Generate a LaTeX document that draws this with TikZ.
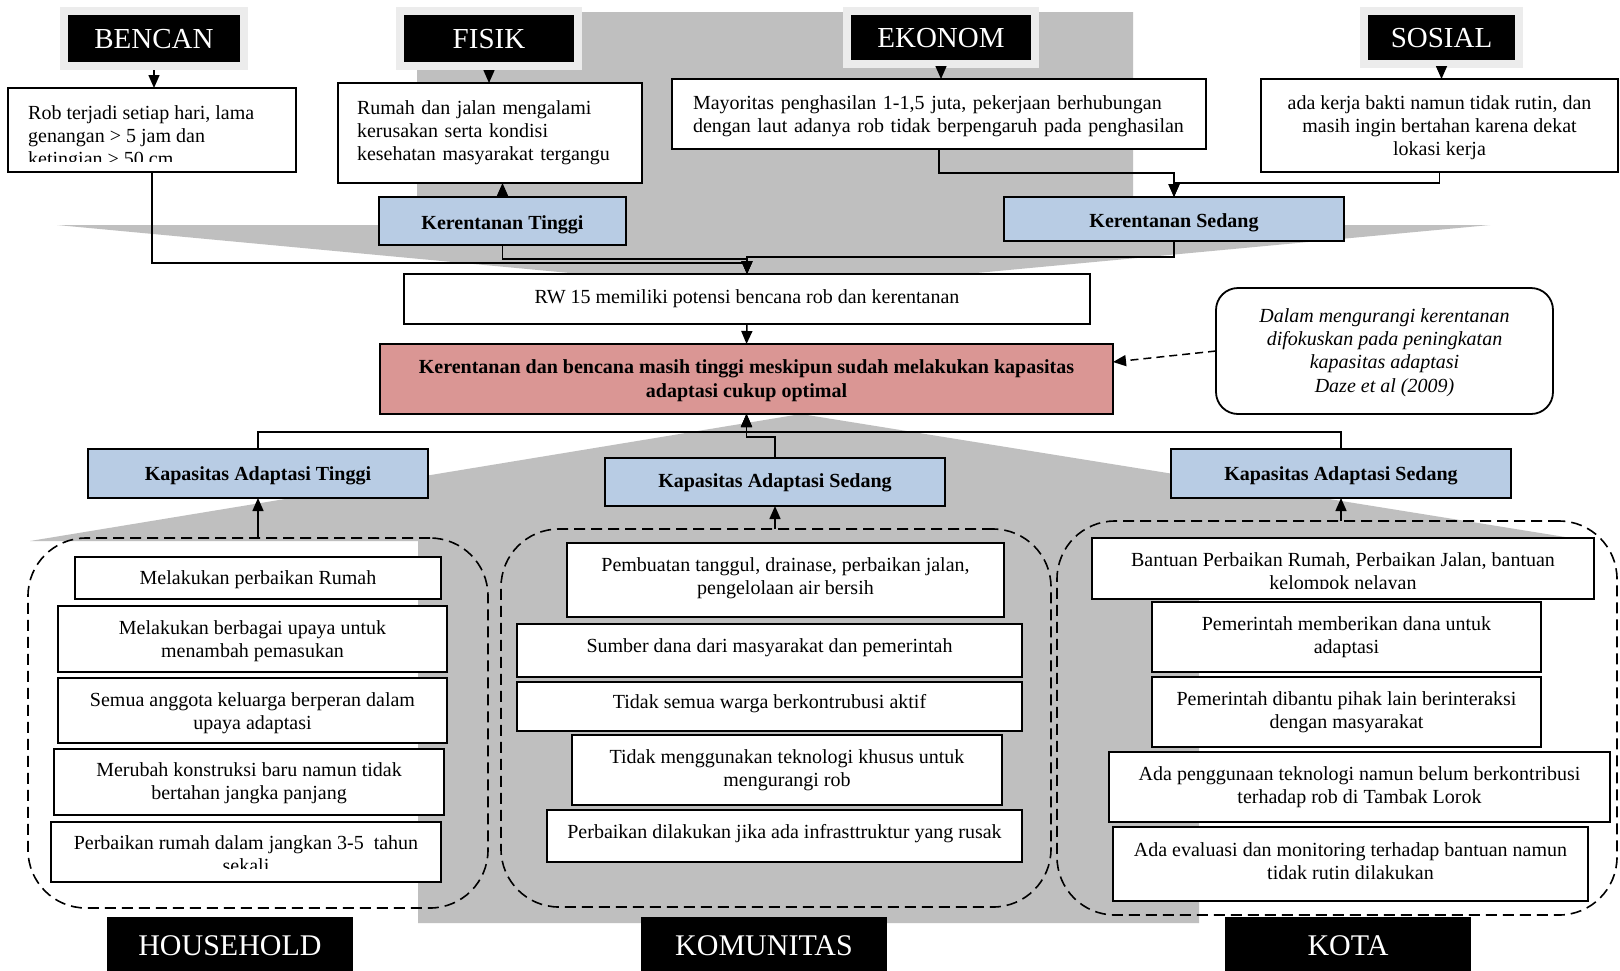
\documentclass[tikz,border=0pt]{standalone}
\usepackage{fontspec}
\setmainfont{Liberation Serif}
\usetikzlibrary{arrows.meta,calc}
\definecolor{bggray}{RGB}{191,191,191}
\definecolor{kblue}{RGB}{184,204,228}
\definecolor{kred}{RGB}{218,150,148}
\definecolor{hdrframe}{RGB}{236,236,236}
\begin{document}
\begin{tikzpicture}[x=1pt,y=-1pt,
  box/.style={draw=black, line width=1.8pt, fill=white, inner sep=0pt, outer sep=0pt, align=center, anchor=north west, font=\fontsize{20}{23}\selectfont},
  bluebox/.style={box, fill=kblue, font=\bfseries\fontsize{20}{23}\selectfont},
  redbox/.style={box, fill=kred, font=\bfseries\fontsize{20}{24}\selectfont},
  notebox/.style={box, rounded corners=22pt, font=\itshape\fontsize{20}{23.3}\selectfont},
  hdr/.style={fill=black, draw=hdrframe, line width=8pt, text=white, inner sep=0pt, font=\fontsize{29}{30}\selectfont, text height=19pt, text depth=0pt},
  foot/.style={fill=black, text=white, inner sep=0pt, font=\fontsize{30}{32}\selectfont, text height=20pt, text depth=0pt},
  grp/.style={draw=black, line width=1.6pt, dash pattern=on 11pt off 6pt, rounded corners=58pt, anchor=north west, inner sep=0pt, outer sep=0pt},
  tb/.style 2 args={text height=#1pt, text depth=#2pt},
  arr/.style={line width=1.5pt, -{Triangle[length=13pt,width=11pt]}},
  darr/.style={arr, dash pattern=on 8pt off 5pt},
  txt/.style={inner sep=0pt, font=\fontsize{20}{23}\selectfont},
]
\useasboundingbox (0,0) rectangle (1620,970);
\fill[white] (0,0) rectangle (1620,970);

% background gray shapes
\fill[bggray] (417,12) -- (1133,12) -- (1133,225) -- (1490,225) -- (773,292) -- (57,225) -- (417,225) -- cycle;
\fill[bggray] (801,414) -- (1590,541) -- (1199,541) -- (1199,923) -- (418,923) -- (418,541) -- (30,541) -- cycle;

% headers
\node[hdr, minimum width=180pt, minimum height=55pt] (bencan) at (154,38.5) {BENCAN};
\node[hdr, minimum width=178pt, minimum height=55pt] (fisik) at (489,38.5) {FISIK};
\node[hdr, minimum width=188pt, minimum height=53pt] (ekonom) at (941,37.5) {EKONOM};
\node[hdr, minimum width=155pt, minimum height=53pt] (sosial) at (1441.5,37.5) {SOSIAL};

% top boxes
\node[box, minimum width=288pt, minimum height=84pt] (rob) at (8,88) {};
\begin{scope}
  \clip (8,88) rectangle (296,161);
  \node[txt, anchor=base west, align=left] (robtext) at (28,165) {Rob terjadi setiap hari, lama\\genangan > 5 jam dan\\ketingian > 50 cm};
\end{scope}
\node[box, minimum width=304pt, minimum height=100pt, tb={31}{69}, text width=266pt, align=left] (rumah) at (338,83) {Rumah dan jalan mengalami\\kerusakan serta kondisi\\kesehatan masyarakat tergangu};
\node[box, minimum width=534pt, minimum height=70pt, tb={30}{40}, text width=492pt, align=left] (may) at (672,79) {Mayoritas penghasilan 1-1,5 juta, pekerjaan berhubungan\\dengan laut adanya rob tidak berpengaruh pada penghasilan};
\node[box, minimum width=357pt, minimum height=93pt, tb={76}{17}] (ada) at (1261,79) {ada kerja bakti namun tidak rutin, dan\\masih ingin bertahan karena dekat\\lokasi kerja};

\node[bluebox, minimum width=247pt, minimum height=48pt, tb={32}{16}] (kt) at (379,197) {Kerentanan Tinggi};
\node[bluebox, minimum width=340pt, minimum height=44pt, tb={30}{14}] (ks) at (1004,197) {Kerentanan Sedang};

\node[box, minimum width=686pt, minimum height=50pt, tb={29}{21}] (rw) at (404,274) {RW 15 memiliki potensi bencana rob dan kerentanan};
\node[redbox, minimum width=733pt, minimum height=70pt, tb={53}{17}] (red) at (380,344) {Kerentanan dan bencana masih tinggi meskipun sudah melakukan kapasitas\\adaptasi cukup optimal};
\node[notebox, minimum width=337pt, minimum height=126pt, tb={104}{22}] (note) at (1216,288) {Dalam mengurangi kerentanan\\difokuskan pada peningkatan\\kapasitas adaptasi\\Daze et al (2009)};

\node[bluebox, minimum width=340pt, minimum height=49pt, tb={31}{18}] (kat) at (88,449) {Kapasitas Adaptasi Tinggi};
\node[bluebox, minimum width=340pt, minimum height=48pt, tb={29}{19}] (kasc) at (605,458) {Kapasitas Adaptasi Sedang};
\node[bluebox, minimum width=340pt, minimum height=49pt, tb={31}{18}] (kasr) at (1171,449) {Kapasitas Adaptasi Sedang};

% dashed groups
\node[grp, minimum width=460pt, minimum height=370pt] (hh) at (28,538) {};
\node[grp, minimum width=550pt, minimum height=378pt] (cm) at (501,529) {};
\node[grp, minimum width=560pt, minimum height=394pt] (ct) at (1057,521) {};

% household
\node[box, minimum width=366pt, minimum height=42pt, tb={27}{15}] (h1) at (75,557) {Melakukan perbaikan Rumah};
\node[box, minimum width=389pt, minimum height=66pt, tb={51}{15}] (h2) at (58,606) {Melakukan berbagai upaya untuk\\menambah pemasukan};
\node[box, minimum width=389pt, minimum height=65pt, tb={51}{14}] (h3) at (58,678) {Semua anggota keluarga berperan dalam\\upaya adaptasi};
\node[box, minimum width=390pt, minimum height=66pt, tb={50}{16}] (h4) at (54,749) {Merubah konstruksi baru namun tidak\\bertahan jangka panjang};
\node[box, minimum width=390pt, minimum height=60pt] (h5) at (51,822) {};
\begin{scope}
  \clip (51,822) rectangle (441,868);
  \node[txt, anchor=base, align=center] (h5text) at (246,872) {Perbaikan rumah dalam jangkan 3-5\ \ tahun\\sekali};
\end{scope}

% community
\node[box, minimum width=437pt, minimum height=74pt, tb={51}{23}] (c1) at (567,543) {Pembuatan tanggul, drainase, perbaikan jalan,\\pengelolaan air bersih};
\node[box, minimum width=505pt, minimum height=53pt, tb={28}{25}] (c2) at (517,624) {Sumber dana dari masyarakat dan pemerintah};
\node[box, minimum width=505pt, minimum height=49pt, tb={26}{23}] (c3) at (517,682) {Tidak semua warga berkontrubusi aktif};
\node[box, minimum width=430pt, minimum height=70pt, tb={51}{19}] (c4) at (572,735) {Tidak menggunakan teknologi khusus untuk\\mengurangi rob};
\node[box, minimum width=475pt, minimum height=52pt, tb={28}{24}] (c5) at (547,810) {Perbaikan dilakukan jika ada infrasttruktur yang rusak};

% city
\node[box, minimum width=502pt, minimum height=61pt] (k1) at (1092,538) {};
\begin{scope}
  \clip (1092,538) rectangle (1594,588);
  \node[txt, anchor=base, align=center] (k1text) at (1343,589) {Bantuan Perbaikan Rumah, Perbaikan Jalan, bantuan\\kelompok nelayan};
\end{scope}
\node[box, minimum width=389pt, minimum height=70pt, tb={51}{19}] (k2) at (1152,602) {Pemerintah memberikan dana untuk\\adaptasi};
\node[box, minimum width=389pt, minimum height=70pt, tb={51}{19}] (k3) at (1152,677) {Pemerintah dibantu pihak lain berinteraksi\\dengan masyarakat};
\node[box, minimum width=501pt, minimum height=70pt, tb={51}{19}] (k4) at (1109,752) {Ada penggunaan teknologi namun belum berkontribusi\\terhadap rob di Tambak Lorok};
\node[box, minimum width=475pt, minimum height=74pt, tb={52}{22}] (k5) at (1113,827) {Ada evaluasi dan monitoring terhadap bantuan namun\\tidak rutin dilakukan};

% footers
\node[foot, minimum width=246pt, minimum height=56pt] (household) at (230,945) {HOUSEHOLD};
\node[foot, minimum width=246pt, minimum height=56pt] (komunitas) at (764,945) {KOMUNITAS};
\node[foot, minimum width=246pt, minimum height=56pt] (kota) at (1348,945) {KOTA};

% connectors top
\draw[arr] (bencan.south) -- (bencan.south |- rob.north);
\draw[arr] (fisik.south) -- (fisik.south |- rumah.north);
\draw[arr] (ekonom.south) -- (ekonom.south |- may.north);
\draw[arr] (sosial.south) -- (sosial.south |- ada.north);
\draw[arr] (kt.north) -- (kt.north |- rumah.south);
\draw[arr] (may.south) -- ++(0,24) -| (ks.north);
\draw[arr] (ada.south) -- ++(0,11) -| (ks.north);

\coordinate (jR) at ([yshift=11pt]rw.north);
\coordinate (jT) at ([yshift=15pt]rw.north);
\coordinate (jS) at ([yshift=17pt]rw.north);
\draw[arr] (rob.south) |- (jR) -- (rw.north);
\draw[arr] (kt.south) |- (jT) -- (rw.north);
\draw[arr] (ks.south) |- (jS) -- (rw.north);
\draw[arr] (rw.south) -- (red.north);
\draw[darr] (note.west) -- ([yshift=17pt]red.east);

% connectors bottom
\coordinate (jB) at ([yshift=-18pt]red.south);
\coordinate (jC) at ([yshift=-23pt]red.south);
\draw[arr] (kat.north) |- (jB) -- (red.south);
\draw[arr] (kasr.north) |- (jB) -- (red.south);
\draw[arr] (kasc.north) |- (jC) -- (red.south);

\draw[arr] (hh.north) -- (kat.south);
\draw[arr] (kasc.south |- cm.north) -- (kasc.south);
\draw[arr] (kasr.south |- ct.north) -- (kasr.south);
\end{tikzpicture}
\end{document}
